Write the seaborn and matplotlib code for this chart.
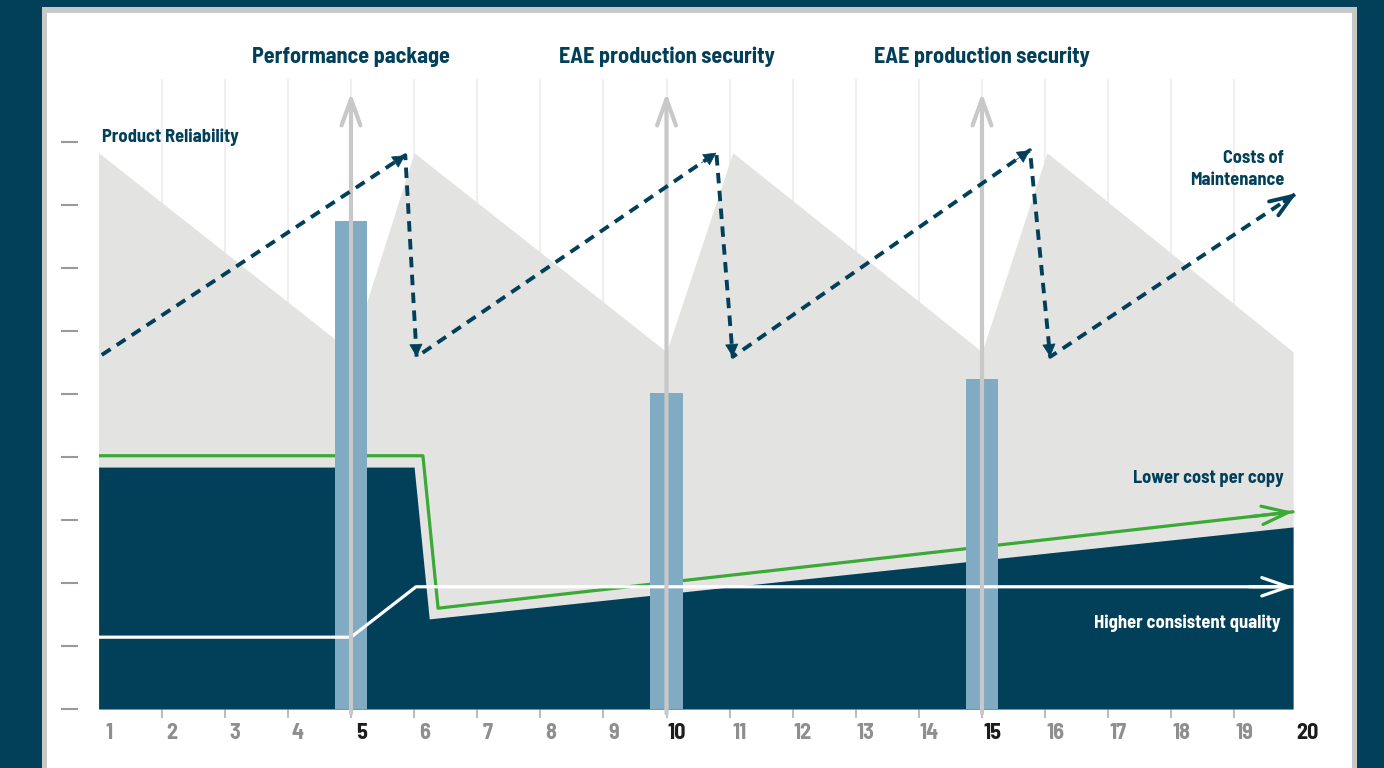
import matplotlib
matplotlib.use("Agg")
import matplotlib.pyplot as plt
from matplotlib.patches import Rectangle
import pandas as pd
import seaborn as sns

# ================== data ==================
years = list(range(1, 21))
highlight_years = [5, 10, 15, 20]

# light grey saw-tooth: product reliability
reliability_x = [1, 5, 6, 10, 11.05, 15, 16.03, 19.93]
reliability_y = [8.83, 5.67, 8.83, 5.67, 8.83, 5.67, 8.83, 5.67]

# dark base area
base_x = [1, 6.0, 6.24, 19.93]
base_y = [3.84, 3.84, 1.43, 2.89]

# green line: lower cost per copy
cost_copy_x = [1, 6.14, 6.38, 19.93]
cost_copy_y = [4.02, 4.02, 1.60, 3.13]

# white line: higher consistent quality
quality_x = [1, 5, 6.03, 19.93]
quality_y = [1.14, 1.14, 1.94, 1.94]

# dashed line: costs of maintenance
maint_x = [1.05, 5.86, 6.04, 10.79, 11.05, 15.76, 16.08, 19.99]
maint_y = [5.62, 8.79, 5.59, 8.83, 5.59, 8.87, 5.59, 8.19]

# events (bars + grey arrows)
event_x = [5, 10, 15]
event_h = [7.75, 5.02, 5.24]
event_labels = ["Performance package", "EAE production security", "EAE production security"]
event_arrow_top = 9.78
# ===================================================================

NAVY = "#02405a"
LIGHT = "#e3e3e2"
GREEN = "#3aa935"
BAR = "#80abc2"
ARROW_GRAY = "#c8c8c8"
GRID = "#efefef"
TICK_GRAY = "#bdbdbd"
YTICK_GRAY = "#999999"
LABEL_GRAY = "#8f8f8f"
LABEL_DARK = "#1c1c1c"

sns.set_theme(style="white")
plt.rcParams["font.family"] = ["Barlow Semi Condensed", "DejaVu Sans"]

W, H = 1384, 768
fig = plt.figure(figsize=(W / 100, H / 100), dpi=100)
fig.patch.set_facecolor(NAVY)
# grey frame + white panel
fig.add_artist(Rectangle((42 / W, 0), (1357 - 42) / W, (H - 7) / H,
                         transform=fig.transFigure, color="#c8c8c8", lw=0, zorder=0))
fig.add_artist(Rectangle((47 / W, 0), (1352 - 47) / W, (H - 13) / H,
                         transform=fig.transFigure, color="white", lw=0, zorder=0))

ax = fig.add_axes([98.6 / W, 59 / H, 1198.9 / W, 630 / H])
ax.set_facecolor("none")


def arrow_head(xs, ys, color, style, lw, zorder, frac=0.05):
    """draw only the head of an arrow at the end of the last segment"""
    x1, y1 = xs[-1], ys[-1]
    x0, y0 = xs[-2], ys[-2]
    start = (x1 - frac * (x1 - x0), y1 - frac * (y1 - y0))
    ax.annotate("", xy=(x1, y1), xytext=start,
                arrowprops=dict(arrowstyle=style, color=color, lw=lw,
                                shrinkA=0, shrinkB=0, mutation_scale=20),
                zorder=zorder, annotation_clip=False)


# areas
ax.fill_between(reliability_x, reliability_y, 0, color=LIGHT, lw=0, zorder=1)
ax.fill_between(base_x, base_y, 0, color=NAVY, lw=0, zorder=2)

# green line
df_copy = pd.DataFrame({"x": cost_copy_x, "y": cost_copy_y})
sns.lineplot(data=df_copy, x="x", y="y", ax=ax, color=GREEN, linewidth=2.3,
             sort=False, estimator=None, zorder=3)
arrow_head(cost_copy_x, cost_copy_y, GREEN, "->,head_length=0.95,head_width=0.33", 2.3, 3)

# bars
sns.barplot(x=event_x, y=event_h, native_scale=True, width=0.102, color=BAR,
            saturation=1, errorbar=None, ax=ax, zorder=4, linewidth=0)

# white line
df_q = pd.DataFrame({"x": quality_x, "y": quality_y})
sns.lineplot(data=df_q, x="x", y="y", ax=ax, color="white", linewidth=2.3,
             sort=False, estimator=None, zorder=5)
arrow_head(quality_x, quality_y, "white", "->,head_length=0.95,head_width=0.33", 2.3, 5)

# grey event arrows
for ex in event_x:
    ax.annotate("", xy=(ex, event_arrow_top), xytext=(ex, -0.07),
                arrowprops=dict(arrowstyle="->,head_length=0.95,head_width=0.34",
                                color=ARROW_GRAY, lw=3, shrinkA=0, shrinkB=0,
                                mutation_scale=20),
                zorder=6, annotation_clip=False)

# dashed maintenance line
df_m = pd.DataFrame({"x": maint_x, "y": maint_y})
sns.lineplot(data=df_m, x="x", y="y", ax=ax, color=NAVY, linewidth=2.8,
             linestyle=(0, (2.7, 1.9)), sort=False, estimator=None, zorder=7)
for i in range(1, len(maint_x) - 1):
    arrow_head(maint_x[i - 1:i + 1], maint_y[i - 1:i + 1], NAVY,
               "-|>,head_length=0.42,head_width=0.22", 0.5, 7)
arrow_head(maint_x, maint_y, NAVY, "->,head_length=0.8,head_width=0.3", 2.8, 7)

# axes styling
ax.set_xlim(1, 20)
ax.set_ylim(0, 10)
ax.set_xlabel("")
ax.set_ylabel("")
for s in ax.spines.values():
    s.set_visible(False)
ax.spines["left"].set_position(("outward", 15))
ax.set_xticks(years)
ax.set_xticklabels([])
ax.set_yticks(range(10))
ax.set_yticklabels([])
ax.tick_params(axis="x", direction="inout", length=13, width=1.5, color=TICK_GRAY,
               bottom=True)
ax.tick_params(axis="y", direction="out", length=12.2, width=1.5, color=YTICK_GRAY,
               left=True)
ax.grid(axis="x", color=GRID, lw=1.5)
ax.grid(axis="y", visible=False)
ax.set_axisbelow(True)
for t in ax.xaxis.get_major_ticks():
    if t.get_loc() in (years[0], years[-1]):
        t.gridline.set_visible(False)
        t.tick1line.set_visible(False)
        t.tick2line.set_visible(False)

# x tick labels
for yr in years:
    hl = yr in highlight_years
    ax.text(yr + 0.16, -0.48, str(yr), ha="center", va="baseline", fontsize=16,
            fontweight="bold", color=LABEL_DARK if hl else LABEL_GRAY, clip_on=False)

# annotations
for ex, lab in zip(event_x, event_labels):
    ax.text(ex, 10.25, lab, ha="center", va="baseline", fontsize=16, fontweight="bold",
            color=NAVY, clip_on=False)
ax.text(1.05, 9.0, "Product Reliability", ha="left", va="baseline", fontsize=13.3,
        fontweight="bold", color=NAVY)
ax.text(19.79, 8.67, "Costs of", ha="right", va="baseline", fontsize=13.2,
        fontweight="bold", color=NAVY)
ax.text(19.79, 8.32, "Maintenance", ha="right", va="baseline", fontsize=13.2,
        fontweight="bold", color=NAVY)
ax.text(19.79, 3.59, "Lower cost per copy", ha="right", va="baseline", fontsize=13.2,
        fontweight="bold", color=NAVY, zorder=8)
ax.text(19.74, 1.29, "Higher consistent quality", ha="right", va="baseline",
        fontsize=13.3, fontweight="bold", color="white", zorder=8)

fig.savefig("out.png", dpi=100, facecolor=fig.get_facecolor())
